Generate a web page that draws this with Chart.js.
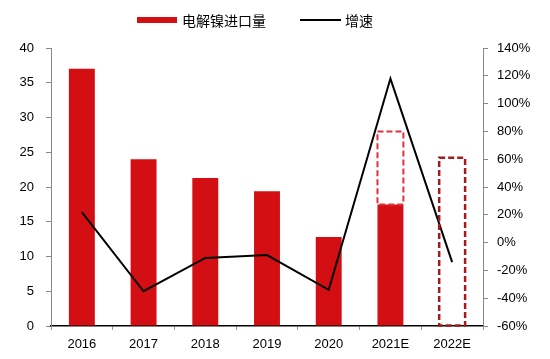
<!DOCTYPE html>
<html>
<head>
<meta charset="utf-8">
<script src="https://cdn.jsdelivr.net/npm/chart.js@4"></script>
<style>
  body { margin: 0; background: #fff; }
  #wrap { position: relative; width: 550px; height: 359px; }
  #legend { position: absolute; top: 10px; left: 0; width: 550px; height: 20px;
    font-family: "Noto Sans CJK SC", sans-serif; font-size: 14px; color: #000; }
  .item { position: absolute; top: 0; line-height: 20px; }
  .sw { position: absolute; }
</style>
</head>
<body>
<div id="wrap">
  <div id="legend">
    <div class="sw" style="left:137px; top:7px; width:40px; height:6px; background:#d40f14;"></div>
    <div class="item" style="left:182px;">电解镍进口量</div>
    <div class="sw" style="left:300px; top:9px; width:41px; height:2px; background:#000;"></div>
    <div class="item" style="left:345px;">增速</div>
  </div>
  <canvas id="myChart" width="550" height="359"></canvas>
</div>
<script>
const years = ["2016", "2017", "2018", "2019", "2020", "2021E", "2022E"];
const imports = [37.0, 24.0, 21.3, 19.4, 12.8, 17.5, null];
const forecast = [null, null, null, null, null, [17.5, 28.0], [0, 24.2]];
const growth = [22, -35, -11, -9, -34, 118, -14];
const leftTicks = [0, 5, 10, 15, 20, 25, 30, 35, 40];
const rightTicks = [-60, -40, -20, 0, 20, 40, 60, 80, 100, 120, 140];

const dashColors = [null, null, null, null, null, "#e0323c", "#a51a1a"];
const tickFont = { family: "Liberation Sans", size: 13 };

// dashed outline for the forecast bars
const dashedBars = {
  id: "dashedBars",
  afterDatasetsDraw(chart) {
    const meta = chart.getDatasetMeta(1);
    const ctx = chart.ctx;
    meta.data.forEach((bar, i) => {
      if (!forecast[i]) return;
      const p = bar.getProps(["x", "y", "base", "width"], true);
      ctx.save();
      ctx.strokeStyle = dashColors[i];
      ctx.lineWidth = i == 6 ? 2.5 : 2;
      ctx.setLineDash([6, 3]);
      ctx.strokeRect(p.x - p.width / 2, p.y, p.width, p.base - p.y);
      ctx.restore();
    });
  }
};

var ctx = document.getElementById("myChart").getContext("2d");
var chart = new Chart(ctx, {
  data: {
    labels: years,
    datasets: [
      {
        type: "bar",
        label: "电解镍进口量",
        data: imports,
        backgroundColor: "#d40f14",
        yAxisID: "y",
        categoryPercentage: 0.42,
        barPercentage: 1,
        grouped: false,
        order: 2
      },
      {
        type: "bar",
        label: "预测",
        data: forecast,
        backgroundColor: "rgba(0,0,0,0)",
        yAxisID: "y",
        categoryPercentage: 0.42,
        barPercentage: 1,
        grouped: false,
        order: 3
      },
      {
        type: "line",
        label: "增速",
        data: growth,
        borderColor: "#000",
        borderWidth: 2,
        pointRadius: 0,
        tension: 0,
        yAxisID: "y1",
        order: 1
      }
    ]
  },
  options: {
    responsive: false,
    animation: false,
    layout: { padding: { top: 48, left: 0, right: 0, bottom: 0 } },
    plugins: { legend: { display: false }, tooltip: { enabled: false } },
    scales: {
      x: {
        offset: true,
        grid: { offset: true, drawOnChartArea: false, tickLength: 4, color: "#999" },
        border: { color: "#000", width: 1.5 },
        ticks: { font: tickFont, color: "#000", padding: 7 },
        afterFit: s => { s.height = 33; }
      },
      y: {
        position: "left",
        min: 0, max: 40,
        afterBuildTicks: s => { s.ticks = leftTicks.map(v => ({ value: v })); },
        grid: { drawOnChartArea: false, tickLength: 5, color: "#888" },
        border: { color: "#888" },
        ticks: { font: tickFont, color: "#000", padding: 12 },
        afterFit: s => { s.width = 51; }
      },
      y1: {
        position: "right",
        min: -60, max: 140,
        afterBuildTicks: s => { s.ticks = rightTicks.map(v => ({ value: v })); },
        grid: { drawOnChartArea: false, tickLength: 5, color: "#888" },
        border: { color: "#888" },
        ticks: { font: tickFont, color: "#000", padding: 9, callback: v => v + "%" },
        afterFit: s => { s.width = 67; }
      }
    }
  },
  plugins: [dashedBars]
});
</script>
</body>
</html>
